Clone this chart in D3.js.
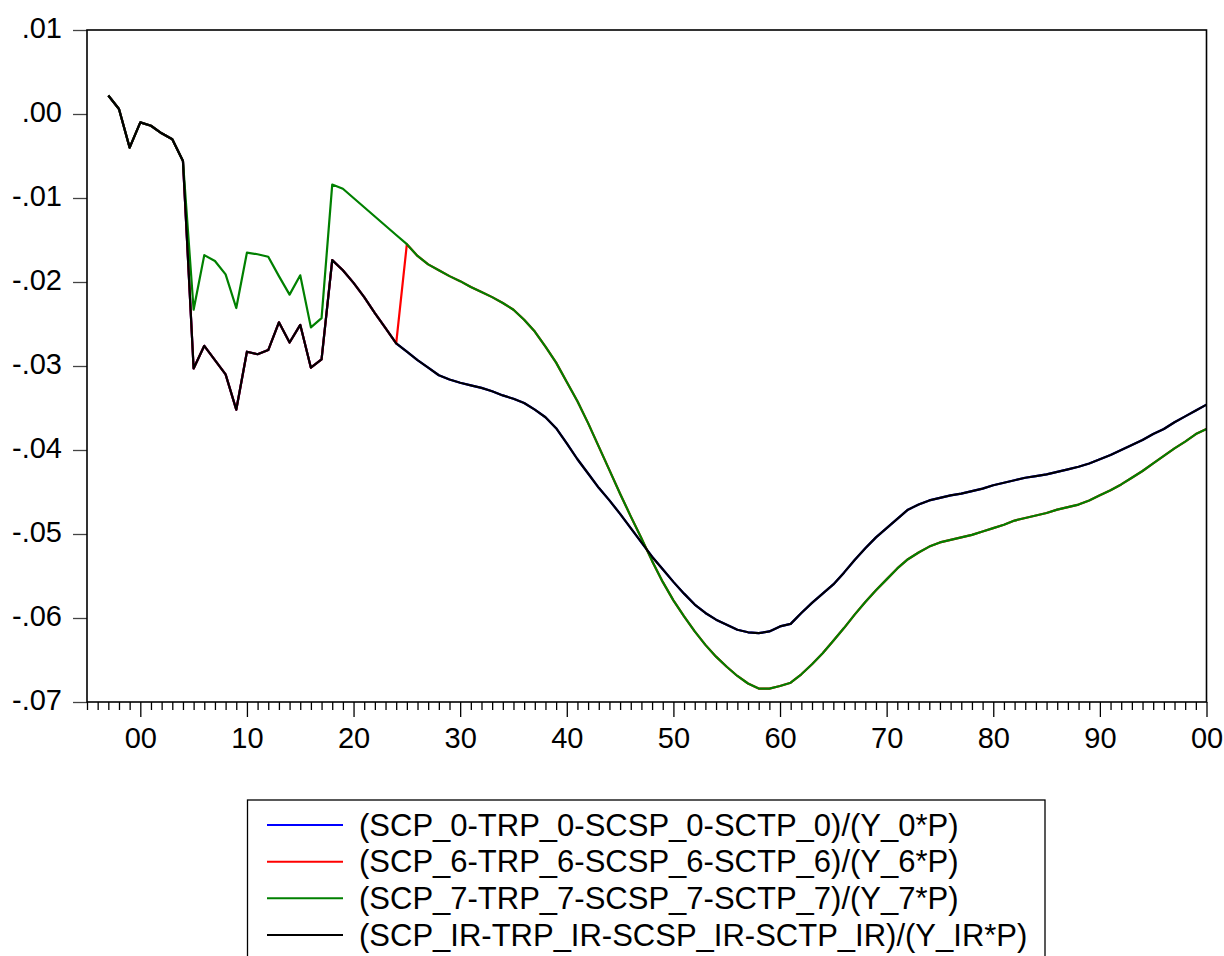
<!DOCTYPE html>
<html>
<head>
<meta charset="utf-8">
<script src="https://cdn.jsdelivr.net/npm/d3@7"></script>
<style>
  html, body { margin: 0; padding: 0; background: #fff; }
  svg { display: block; }
  text { font-family: "Liberation Sans", Arial, Helvetica, sans-serif; fill: #000; }
</style>
</head>
<body>
<svg id="chart" width="1224" height="956"></svg>
<script>
// Annual observations, 1997-2100
const years = d3.range(1997, 2101);

// (SCP_IR-TRP_IR-SCSP_IR-SCTP_IR)/(Y_IR*P)
const seriesIR = [
  0.0022, 0.0006, -0.0040, -0.0010, -0.0014, -0.0023, -0.0030, -0.0056,
  -0.0303, -0.0276, -0.0293, -0.0310, -0.0352, -0.0283, -0.0286, -0.0281, -0.0248, -0.0272,
  -0.0251, -0.0302, -0.0292, -0.0174, -0.0186, -0.0201, -0.0218, -0.0237, -0.0255, -0.0273,
  -0.0283, -0.0293, -0.0302, -0.0311, -0.0316, -0.0320, -0.0323, -0.0326, -0.0330, -0.0335,
  -0.0339, -0.0344, -0.0352, -0.0361, -0.0374, -0.0392, -0.0411, -0.0428, -0.0445, -0.0460,
  -0.0476, -0.0493, -0.0510, -0.0527, -0.0542, -0.0557, -0.0571, -0.0584, -0.0594, -0.0602,
  -0.0608, -0.0614, -0.0617, -0.0618, -0.0616, -0.0610, -0.0607, -0.0594, -0.0582, -0.0571,
  -0.0560, -0.0546, -0.0531, -0.0517, -0.0504, -0.0493, -0.0482, -0.0471, -0.0465, -0.0460,
  -0.0457, -0.0454, -0.0452, -0.0449, -0.0446, -0.0442, -0.0439, -0.0436, -0.0433, -0.0431,
  -0.0429, -0.0426, -0.0423, -0.0420, -0.0416, -0.0411, -0.0406, -0.0400, -0.0394, -0.0388,
  -0.0381, -0.0375, -0.0367, -0.0360, -0.0353, -0.0346
];

// (SCP_0-TRP_0-SCSP_0-SCTP_0)/(Y_0*P)
const series0 = [
  0.0022, 0.0006, -0.0040, -0.0010, -0.0014, -0.0023, -0.0030, -0.0056,
  -0.0303, -0.0276, -0.0293, -0.0310, -0.0352, -0.0283, -0.0286, -0.0281, -0.0248, -0.0272,
  -0.0251, -0.0302, -0.0292, -0.0174, -0.0186, -0.0201, -0.0218, -0.0237, -0.0255, -0.0273,
  -0.0283, -0.0293, -0.0302, -0.0311, -0.0316, -0.0320, -0.0323, -0.0326, -0.0330, -0.0335,
  -0.0339, -0.0344, -0.0352, -0.0361, -0.0374, -0.0392, -0.0411, -0.0428, -0.0445, -0.0460,
  -0.0476, -0.0493, -0.0510, -0.0527, -0.0542, -0.0557, -0.0571, -0.0584, -0.0594, -0.0602,
  -0.0608, -0.0614, -0.0617, -0.0618, -0.0616, -0.0610, -0.0607, -0.0594, -0.0582, -0.0571,
  -0.0560, -0.0546, -0.0531, -0.0517, -0.0504, -0.0493, -0.0482, -0.0471, -0.0465, -0.0460,
  -0.0457, -0.0454, -0.0452, -0.0449, -0.0446, -0.0442, -0.0439, -0.0436, -0.0433, -0.0431,
  -0.0429, -0.0426, -0.0423, -0.0420, -0.0416, -0.0411, -0.0406, -0.0400, -0.0394, -0.0388,
  -0.0381, -0.0375, -0.0367, -0.0360, -0.0353, -0.0346
];

// (SCP_7-TRP_7-SCSP_7-SCTP_7)/(Y_7*P)
const series7 = [
  0.0022, 0.0006, -0.0040, -0.0010, -0.0014, -0.0023, -0.0030, -0.0056,
  -0.0233, -0.0168, -0.0175, -0.0191, -0.0231, -0.0165, -0.0167, -0.0170, -0.0193, -0.0215,
  -0.0192, -0.0254, -0.0243, -0.0084, -0.0089, -0.0100, -0.0111, -0.0122, -0.0133, -0.0144,
  -0.0155, -0.0169, -0.0179, -0.0186, -0.0193, -0.0199, -0.0206, -0.0212, -0.0218, -0.0225,
  -0.0233, -0.0245, -0.0259, -0.0277, -0.0296, -0.0319, -0.0342, -0.0368, -0.0396, -0.0424,
  -0.0452, -0.0479, -0.0505, -0.0532, -0.0557, -0.0579, -0.0598, -0.0616, -0.0632, -0.0646,
  -0.0658, -0.0669, -0.0678, -0.0684, -0.0684, -0.0681, -0.0677, -0.0667, -0.0655, -0.0642,
  -0.0627, -0.0612, -0.0596, -0.0581, -0.0567, -0.0554, -0.0541, -0.0530, -0.0522, -0.0515,
  -0.0510, -0.0507, -0.0504, -0.0501, -0.0497, -0.0493, -0.0489, -0.0484, -0.0481, -0.0478,
  -0.0475, -0.0471, -0.0468, -0.0465, -0.0460, -0.0454, -0.0448, -0.0441, -0.0433, -0.0425,
  -0.0416, -0.0407, -0.0398, -0.0390, -0.0381, -0.0375
];

// (SCP_6-TRP_6-SCSP_6-SCTP_6)/(Y_6*P)
const series6 = [
  0.0022, 0.0006, -0.0040, -0.0010, -0.0014, -0.0023, -0.0030, -0.0056,
  -0.0303, -0.0276, -0.0293, -0.0310, -0.0352, -0.0283, -0.0286, -0.0281, -0.0248, -0.0272,
  -0.0251, -0.0302, -0.0292, -0.0174, -0.0186, -0.0201, -0.0218, -0.0237, -0.0255, -0.0273,
  -0.0155, -0.0169, -0.0179, -0.0186, -0.0193, -0.0199, -0.0206, -0.0212, -0.0218, -0.0225,
  -0.0233, -0.0245, -0.0259, -0.0277, -0.0296, -0.0319, -0.0342, -0.0368, -0.0396, -0.0424,
  -0.0452, -0.0479, -0.0505, -0.0532, -0.0557, -0.0579, -0.0598, -0.0616, -0.0632, -0.0646,
  -0.0658, -0.0669, -0.0678, -0.0684, -0.0684, -0.0681, -0.0677, -0.0667, -0.0655, -0.0642,
  -0.0627, -0.0612, -0.0596, -0.0581, -0.0567, -0.0554, -0.0541, -0.0530, -0.0522, -0.0515,
  -0.0510, -0.0507, -0.0504, -0.0501, -0.0497, -0.0493, -0.0489, -0.0484, -0.0481, -0.0478,
  -0.0475, -0.0471, -0.0468, -0.0465, -0.0460, -0.0454, -0.0448, -0.0441, -0.0433, -0.0425,
  -0.0416, -0.0407, -0.0398, -0.0390, -0.0381, -0.0375
];

const seriesNames = [
  "(SCP_0-TRP_0-SCSP_0-SCTP_0)/(Y_0*P)",
  "(SCP_6-TRP_6-SCSP_6-SCTP_6)/(Y_6*P)",
  "(SCP_7-TRP_7-SCSP_7-SCTP_7)/(Y_7*P)",
  "(SCP_IR-TRP_IR-SCSP_IR-SCTP_IR)/(Y_IR*P)"
];
const seriesColors = ["#0000ff", "#ff0000", "#008000", "#000000"];
const yTickValues = [0.01, 0.00, -0.01, -0.02, -0.03, -0.04, -0.05, -0.06, -0.07];

const allSeries = [series0, series6, series7, seriesIR];

// Plot frame
const plotLeft = 87, plotRight = 1206.5, plotTop = 30, plotBottom = 702;

const svg = d3.select("#chart");
svg.append("rect").attr("width", 1224).attr("height", 956).attr("fill", "#fff");

const x = d3.scaleLinear().domain([1995, 2100]).range([plotLeft, plotRight]);
const y = d3.scaleLinear().domain([-0.07, 0.01]).range([plotBottom, plotTop]);

// Bottom axis: a tick every year, longer ticks and labels on decades
const xAxis = d3.axisBottom(x)
  .tickValues(d3.range(1995, 2101))
  .tickSize(8)
  .tickSizeOuter(0)
  .tickFormat(d => d % 10 === 0 ? String(d % 100).padStart(2, "0") : "");

const gx = svg.append("g").attr("transform", `translate(0,${plotBottom})`).call(xAxis);
gx.select(".domain").remove();
gx.selectAll(".tick line")
  .attr("stroke", "#000")
  .attr("stroke-width", 1.3)
  .attr("y2", d => d % 10 === 0 ? 15 : 8);
gx.selectAll(".tick text")
  .attr("y", 45.5)
  .attr("dy", 0)
  .style("font-size", "29px")
  .style("font-family", "'Liberation Sans', Arial, sans-serif");

// Left axis: ".01", ".00", "-.01" ... with a plain hyphen for the sign
const fmt = d => {
  const v = Math.round(d * 100);
  const body = "." + String(Math.abs(v)).padStart(2, "0");
  return v < 0 ? "-" + body : body;
};
const yAxis = d3.axisLeft(y)
  .tickValues(yTickValues)
  .tickSize(14)
  .tickSizeOuter(0)
  .tickPadding(11)
  .tickFormat(fmt);
const gy = svg.append("g").attr("transform", `translate(${plotLeft},0)`).call(yAxis);
gy.select(".domain").remove();
gy.selectAll(".tick line").attr("stroke", "#444").attr("stroke-width", 1.3);
gy.selectAll(".tick text")
  .attr("dy", 0)
  .attr("y", 7)
  .style("font-size", "29px")
  .style("font-family", "'Liberation Sans', Arial, sans-serif");

// Series lines
const line = d3.line()
  .x((d, i) => x(years[i]))
  .y(d => y(d));

const gLines = svg.append("g");
allSeries.forEach((s, k) => {
  gLines.append("path")
    .datum(s)
    .attr("fill", "none")
    .attr("stroke", seriesColors[k])
    .attr("stroke-width", 2.2)
    .attr("stroke-linejoin", "round")
    .attr("d", line);
});

// Frame drawn over the lines
svg.append("rect")
  .attr("x", plotLeft).attr("y", plotTop)
  .attr("width", plotRight - plotLeft).attr("height", plotBottom - plotTop)
  .attr("fill", "none")
  .attr("stroke", "#000")
  .attr("stroke-width", 1.6);

// Legend
const legend = svg.append("g");
legend.append("rect")
  .attr("x", 247.5).attr("y", 800)
  .attr("width", 797.5).attr("height", 200)
  .attr("fill", "#fff")
  .attr("stroke", "#000")
  .attr("stroke-width", 1.3);

const rowY = [825, 861.7, 898.3, 935];
seriesNames.forEach((name, k) => {
  legend.append("line")
    .attr("x1", 267).attr("x2", 343)
    .attr("y1", rowY[k]).attr("y2", rowY[k])
    .attr("stroke", seriesColors[k])
    .attr("stroke-width", 2);
  legend.append("text")
    .attr("x", 359)
    .attr("y", rowY[k] + 10.5)
    .style("font-size", "31px")
    .text(name);
});
</script>
</body>
</html>
